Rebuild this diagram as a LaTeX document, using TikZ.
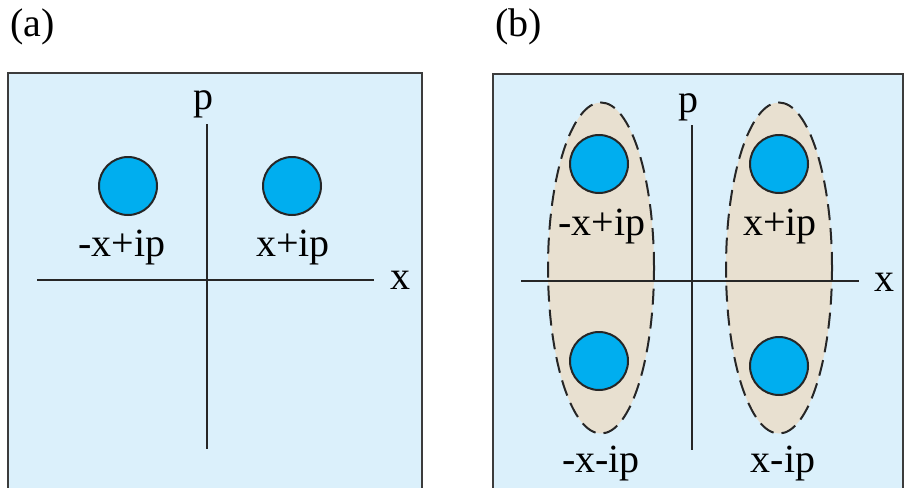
\documentclass[tikz,border=0pt]{standalone}
\usepackage{fontspec}
\setmainfont{Liberation Serif}
\usetikzlibrary{positioning,shapes.geometric}
\definecolor{paper}{RGB}{219,240,251}
\definecolor{dotblue}{RGB}{0,174,239}
\definecolor{sand}{RGB}{232,224,208}
\definecolor{frame}{RGB}{60,60,60}

\begin{document}
\begin{tikzpicture}[x=1pt, y=-1pt,
  panel/.style={draw=frame, fill=paper, line width=2pt},
  axis/.style={draw=black!85, line width=1.7pt},
  dot/.style={circle, draw=black!85, fill=dotblue, line width=2pt, minimum size=58pt, inner sep=0pt},
  blob/.style={ellipse, draw=black!85, fill=sand, dash pattern=on 16pt off 8pt, line width=2pt,
               minimum width=106pt, minimum height=331pt, inner sep=0pt},
  lab/.style={font=\fontsize{40}{44}\selectfont, inner sep=0pt, anchor=base}]
  \useasboundingbox (0,0) rectangle (904,487);

  % panels
  \draw[panel] (8,73) rectangle (422,505);
  \draw[panel] (493,74) rectangle (903,505);
  \node[lab, anchor=base west] (tag-a) at (10,37) {(a)};
  \node[lab, anchor=base west] (tag-b) at (495,37) {(b)};

  % grouping ellipses of (b)
  \node[blob] (left-pair) at (601,268) {};
  \node[blob] (right-pair) at (779,268) {};

  % axes
  \coordinate (a-top) at (207,124);
  \coordinate (a-bot) at (207,449);
  \coordinate (a-lft) at (37,280);
  \coordinate (a-rgt) at (374,280);
  \coordinate (b-top) at (692,125);
  \coordinate (b-bot) at (692,450);
  \coordinate (b-lft) at (521,281);
  \coordinate (b-rgt) at (859,281);
  \draw[axis] (a-top) -- (a-bot);
  \draw[axis] (a-lft) -- (a-rgt);
  \draw[axis] (b-top) -- (b-bot);
  \draw[axis] (b-lft) -- (b-rgt);
  \node[lab] (a-p) at (203,109) {p};
  \node[lab] (a-x) at (400,289) {x};
  \node[lab] (b-p) at (688,112) {p};
  \node[lab] (b-x) at (884,291) {x};

  % states
  \foreach \n/\px/\py in {a1/128/186, a2/292/186, b1/599/164, b2/779/164, b3/599/361, b4/779/366}
    \node[dot] (\n) at (\px,\py) {};

  \foreach \n/\px/\py/\txt in {a1/122/256/-x+ip, a2/293/256/x+ip, b1/602/235/-x+ip,
      b2/780/235/x+ip, b3/601/472/-x-ip, b4/783/472/x-ip}
    \node[lab] (\n-lab) at (\px,\py) {\txt};
\end{tikzpicture}
\end{document}
